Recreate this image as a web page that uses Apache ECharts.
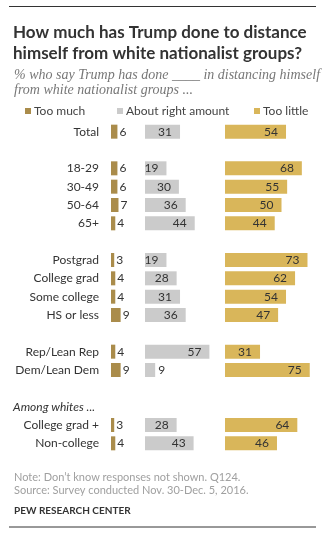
<!DOCTYPE html>
<html>
<head>
<meta charset="utf-8">
<script src="https://cdn.jsdelivr.net/npm/echarts@6/dist/echarts.min.js"></script>
<style>
  html, body { margin: 0; padding: 0; background: #fff; }
  #chart { width: 330px; height: 540px; }
</style>
</head>
<body>
<div id="chart"></div>
<script>
// Row labels, top to bottom; blank entries are spacer rows between groups
var categories = [
  'Total', ' ',
  '18-29', '30-49', '50-64', '65+', '  ',
  'Postgrad', 'College grad', 'Some college', 'HS or less', '   ',
  'Rep/Lean Rep', 'Dem/Lean Dem', '    ',
  'Among whites ...', 'College grad +', 'Non-college'
];
var groupHeading = 'Among whites ...';

// Percent answering each option (null = no bar in that row)
var tooMuch    = [6, null, 6, 6, 7, 4, null, 3, 4, 4, 9, null, 4, 9, null, null, 3, 4];
var aboutRight = [31, null, 19, 30, 36, 44, null, 19, 28, 31, 36, null, 57, 9, null, null, 28, 43];
var tooLittle  = [54, null, 68, 55, 50, 44, null, 73, 62, 54, 47, null, 31, 75, null, null, 64, 46];

var seriesNames = ['Too much', 'About right amount', 'Too little'];

var FONT = 'Lato, "Liberation Sans", sans-serif';
var colors = ['#AA8C4B', '#CBCBCB', '#D9B65A'];

var chart = echarts.init(document.getElementById('chart'), null, { renderer: 'canvas' });

var gridTop = 122.5, gridHeight = 330;
var grids = [
  { left: 111, width: 32.1, max: 30 },
  { left: 145, width: 79.1, max: 70 },
  { left: 225, width: 90.4, max: 80 }
];

// Short bars cannot hold their number, so it goes just past the bar end
function valueLabel(v, insidePos) {
  if (v == null) return v;
  if (insidePos && v < 12) {
    return { value: v, label: { position: 'right', distance: 3 } };
  }
  return v;
}

var labelBase = { show: true, fontFamily: FONT, fontSize: 12, color: '#333' };

var option = {
  backgroundColor: '#fff',
  animation: false,
  title: [
    {
      text: 'How much has Trump done to distance\nhimself from white nationalist groups?',
      left: 8, top: 17,
      textStyle: { fontFamily: FONT, fontWeight: 'bold', fontSize: 17, lineHeight: 21, color: '#333' }
    },
    {
      text: '% who say Trump has done ____ in distancing himself\nfrom white nationalist groups ...',
      left: 9, top: 63,
      textStyle: { fontFamily: '"Liberation Serif", serif', fontStyle: 'italic', fontWeight: 'normal', fontSize: 14, lineHeight: 15, color: '#777' }
    },
    {
      text: 'Note: Don\u2019t know responses not shown. Q124.\nSource: Survey conducted Nov. 30-Dec. 5, 2016.',
      left: 9, top: 466,
      textStyle: { fontFamily: FONT, fontWeight: 'normal', fontSize: 11, lineHeight: 13, color: '#A0A0A0' }
    },
    {
      text: 'PEW RESEARCH CENTER',
      left: 9, top: 501,
      textStyle: { fontFamily: FONT, fontWeight: 'bold', fontSize: 10, color: '#333' }
    }
  ],
  legend: [
    { data: [seriesNames[0]], left: 25, top: 105 },
    { data: [seriesNames[1]], left: 117, top: 105 },
    { data: [seriesNames[2]], left: 254, top: 105 }
  ].map(function (l) {
    return Object.assign({
      icon: 'rect', itemWidth: 6, itemHeight: 6, itemGap: 0, padding: 0, selectedMode: false,
      textStyle: { fontFamily: FONT, fontSize: 12, color: '#444', padding: [0, 0, 0, -2] }
    }, l);
  }),
  grid: grids.map(function (g) {
    return { left: g.left, width: g.width, top: gridTop, height: gridHeight, containLabel: false };
  }),
  xAxis: grids.map(function (g, i) {
    return { type: 'value', gridIndex: i, min: 0, max: g.max, show: false };
  }),
  yAxis: grids.map(function (g, i) {
    return {
      type: 'category', gridIndex: i, data: categories, inverse: true,
      axisLine: { show: false }, axisTick: { show: false }, splitLine: { show: false },
      axisLabel: i === 0 ? {
        show: true, margin: 12, fontFamily: FONT, fontSize: 12, color: '#333',
        formatter: function (v) {
          return v === groupHeading ? '{h|' + v + '}' : v;
        },
        rich: { h: { fontFamily: FONT, fontStyle: 'italic', fontSize: 12, color: '#333', padding: [0, 4, 0, 0] } }
      } : { show: false }
    };
  }),
  series: [
    {
      name: seriesNames[0], type: 'bar', xAxisIndex: 0, yAxisIndex: 0, barWidth: 14,
      itemStyle: { color: colors[0] },
      label: Object.assign({ position: 'right', distance: 2 }, labelBase),
      data: tooMuch
    },
    {
      name: seriesNames[1], type: 'bar', xAxisIndex: 1, yAxisIndex: 1, barWidth: 14,
      itemStyle: { color: colors[1] },
      label: Object.assign({ position: 'insideRight', distance: 8 }, labelBase),
      data: aboutRight.map(function (v) { return valueLabel(v, true); })
    },
    {
      name: seriesNames[2], type: 'bar', xAxisIndex: 2, yAxisIndex: 2, barWidth: 14,
      itemStyle: { color: colors[2] },
      label: Object.assign({ position: 'insideRight', distance: 8 }, labelBase),
      data: tooLittle
    }
  ],
  graphic: [
    { type: 'line', shape: { x1: 9, y1: 6.5, x2: 316, y2: 6.5 }, style: { stroke: '#333', lineWidth: 1 } },
    { type: 'line', shape: { x1: 9, y1: 527, x2: 316, y2: 527 }, style: { stroke: '#333', lineWidth: 1 } }
  ]
};

chart.setOption(option);
</script>
</body>
</html>
